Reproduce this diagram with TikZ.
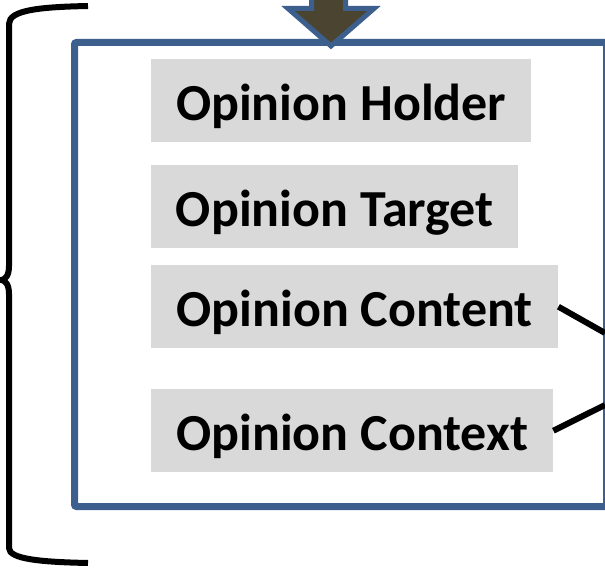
\documentclass[tikz,border=0pt]{standalone}
\usepackage{fontspec}
\setmainfont{Carlito}
\definecolor{frameblue}{HTML}{3C5F8E}
\definecolor{boxgray}{HTML}{D9D9D9}
\definecolor{arrowfill}{HTML}{4B4431}
\begin{document}
\begin{tikzpicture}[x=1pt,y=-1pt,
  item/.style={fill=boxgray, anchor=north west, minimum height=83pt, inner sep=0pt,
    text height=39pt, text depth=0pt,
    font=\fontsize{52}{60}\selectfont\bfseries, text=black},
  link/.style={line width=6pt, black},
  bracestyle/.style={line width=6pt, black},
  frame/.style={draw=frameblue, line width=7pt, rounded corners=2pt}
]
\useasboundingbox (0,0) rectangle (605,569);
% brace
\draw[bracestyle] (88,6) .. controls (40,7) and (9,10) .. (9,24) -- (9,266)
  .. controls (9,276) and (5,280) .. (1,280)
  .. controls (5,280) and (9,284) .. (9,294) -- (9,548)
  .. controls (9,559) and (40,562) .. (88,563);
% frame
\node[frame, minimum width=532pt, minimum height=464pt, anchor=north west, inner sep=0pt] (frame) at (71,39) {};
% down arrow
\filldraw[draw=frameblue, fill=arrowfill, line width=5pt, miter limit=10]
  (311.5,-10) -- (311.5,8.5) -- (288,8.5) -- (331,46) -- (374,8.5) -- (345.5,8.5) -- (345.5,-10) -- cycle;
% items
\node[item, minimum width=380pt] (holder) at (151,59) {Opinion Holder};
\node[item, minimum width=367pt] (target) at (151,165) {Opinion Target};
\node[item, minimum width=407pt] (content) at (151,265) {Opinion Content};
\node[item, minimum width=402pt] (context) at (151,389) {Opinion Context};
% connectors
\coordinate (c1) at (605,333);
\coordinate (c2) at (605,405);
\draw[link] (content.east) -- (c1);
\draw[link] (context.east) -- (c2);
\end{tikzpicture}
\end{document}
